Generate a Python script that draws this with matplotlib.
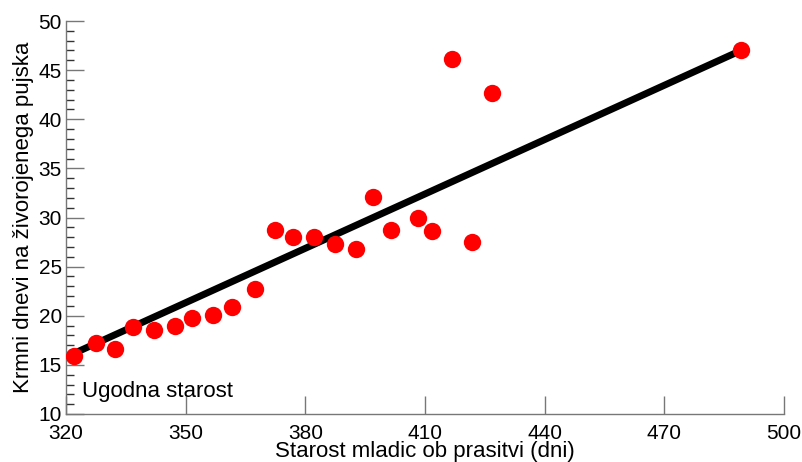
import matplotlib
matplotlib.use("Agg")
import matplotlib.pyplot as plt
from matplotlib.ticker import MultipleLocator

plt.rcParams['font.family'] = ['Liberation Sans', 'DejaVu Sans']

# data
age = [322.0, 327.5, 332.3, 336.8, 342.1, 347.3, 351.6, 356.9, 361.6, 367.4,
       372.4, 376.9, 382.2, 387.4, 392.7, 397.0, 401.5, 408.2, 411.7, 416.8,
       421.8, 426.8, 489.2]
days = [15.9, 17.2, 16.6, 18.9, 18.5, 19.0, 19.8, 20.1, 20.9, 22.7,
        28.7, 28.0, 28.0, 27.3, 26.8, 32.1, 28.7, 29.9, 28.6, 46.1,
        27.5, 42.7, 47.0]
fit_x = [320.0, 489.2]
fit_y = [15.8, 47.0]
x_ticks = [320, 350, 380, 410, 440, 470, 500]
y_ticks = [10, 15, 20, 25, 30, 35, 40, 45, 50]
x_label = "Starost mladic ob prasitvi (dni)"
y_label = "Krmni dnevi na živorojenega pujska"
annotation = "Ugodna starost"

fig = plt.figure(figsize=(8.03, 4.62), dpi=100)
ax = fig.add_axes([0.0822, 0.1039, 0.8941, 0.8506])

ax.plot(fit_x, fit_y, color='black', lw=5, solid_capstyle='butt', zorder=2)
ax.plot(age, days, 'o', color='#ff0000', markersize=12.5, markeredgewidth=0, zorder=3)

ax.set_xlim(320, 500)
ax.set_ylim(10, 50)
ax.set_xticks(x_ticks)
ax.set_yticks(y_ticks)
ax.yaxis.set_minor_locator(MultipleLocator(1))

for s in ['top', 'right']:
    ax.spines[s].set_visible(False)
for s in ['left', 'bottom']:
    ax.spines[s].set_color('#777777')
    ax.spines[s].set_linewidth(1)

ax.tick_params(axis='both', which='major', direction='in', length=13, width=1,
               color='#777777', labelsize=15, labelcolor='black')
ax.tick_params(axis='x', which='major', pad=7)
ax.tick_params(axis='y', which='major', pad=3)
ax.tick_params(axis='y', which='minor', direction='in', length=6, width=1, color='#333333')

ax.set_xlabel(x_label, fontsize=16, labelpad=-1)
ax.set_ylabel(y_label, fontsize=16, labelpad=3)

ax.text(0.022, 0.056, annotation, transform=ax.transAxes, fontsize=16,
        ha='left', va='center')

fig.savefig("out.png", dpi=100)
